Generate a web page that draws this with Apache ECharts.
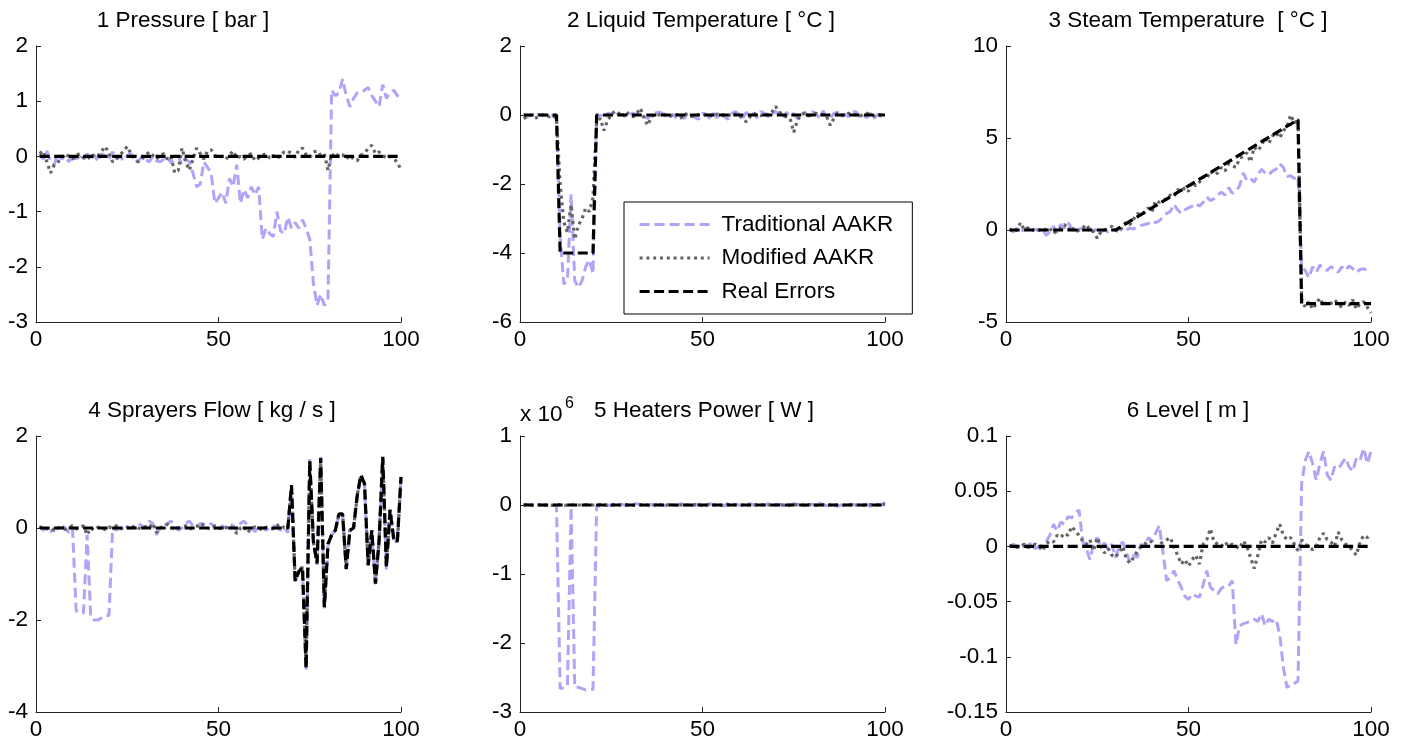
<!DOCTYPE html>
<html>
<head>
<meta charset="utf-8">
<script src="https://cdn.jsdelivr.net/npm/echarts@6/dist/echarts.min.js"></script>
<style>
html,body{margin:0;padding:0;background:#fff;}
#chart{width:1410px;height:746px;}
</style>
</head>
<body>
<div id="chart"></div>
<script>
// ---------------- DATA (sample index 1..100) ----------------
const seriesNames = ['Traditional AAKR', 'Modified AAKR', 'Real Errors'];
const panelTitles = ['1 Pressure [ bar ]', '2 Liquid Temperature [ °C ]', '3 Steam Temperature  [ °C ]',
                     '4 Sprayers Flow [ kg / s ]', '5 Heaters Power [ W ]', '6 Level [ m ]'];
const xTicks = [0, 50, 100];

// Panel 1 : Pressure [bar]
const p1Trad = [0.05,-0.05,0.1,-0.1,-0.15,0.05,-0.05,0.02,-0.1,0.05,
  -0.05,0.0,-0.08,0.05,-0.05,0.02,-0.1,0.05,0.0,-0.05,
  0.08,-0.05,0.0,-0.08,0.02,0.05,-0.05,-0.1,0.0,-0.05,
  -0.1,0.0,-0.08,-0.1,-0.05,0.0,-0.12,-0.05,0.0,-0.15,
  -0.05,-0.1,-0.3,-0.55,-0.5,-0.1,-0.2,-0.3,-0.85,-0.75,
  -0.65,-0.85,-0.4,-0.55,-0.15,-0.85,-0.6,-0.75,-0.55,-0.7,
  -0.55,-1.5,-1.3,-1.4,-1.45,-1.0,-1.35,-1.4,-1.1,-1.3,
  -1.2,-1.3,-1.15,-1.3,-1.5,-2.3,-2.7,-2.5,-2.7,-2.6,
  1.2,1.1,1.15,1.4,1.1,0.9,1.05,1.15,1.15,1.2,
  1.25,1.1,1.0,0.9,1.3,1.05,1.15,1.2,1.1,1.06];
const p1Mod = [0.05,0.1,-0.1,-0.3,-0.15,-0.1,-0.05,0.05,0.0,-0.05,
  0.02,0.05,-0.03,0.0,-0.05,0.05,0.02,0.1,0.18,0.05,
  -0.1,-0.05,0.02,0.1,0.18,0.05,-0.05,-0.1,-0.05,0.02,
  0.08,0.02,-0.05,0.02,0.05,-0.05,0.0,-0.3,-0.25,0.15,
  -0.1,-0.25,-0.05,0.15,0.05,-0.05,0.1,0.12,0.02,-0.02,
  0.0,-0.05,0.02,0.1,-0.03,0.0,-0.05,0.02,0.05,-0.08,
  -0.03,0.02,0.05,-0.03,0.02,-0.05,0.03,0.08,0.1,0.05,
  -0.02,0.12,0.15,0.03,-0.02,0.08,0.1,0.02,0.05,-0.25,
  0.05,-0.02,0.05,0.03,-0.05,0.02,-0.05,-0.08,0.02,0.05,
  0.15,0.2,0.05,0.08,0.02,-0.03,0.0,-0.05,-0.1,-0.25];
const p1Real = [0,0,0,0,0,0,0,0,0,0, 0,0,0,0,0,0,0,0,0,0,
  0,0,0,0,0,0,0,0,0,0, 0,0,0,0,0,0,0,0,0,0,
  0,0,0,0,0,0,0,0,0,0, 0,0,0,0,0,0,0,0,0,0,
  0,0,0,0,0,0,0,0,0,0, 0,0,0,0,0,0,0,0,0,0,
  0,0,0,0,0,0,0,0,0,0, 0,0,0,0,0,0,0,0,0,0];

// Panel 2 : Liquid temperature [°C]
const p2Trad = [0.02,-0.05,0.0,-0.03,0.02,-0.02,0.0,0.03,-0.02,-0.1,
  -3.5,-4.9,-4.8,-2.3,-4.8,-5.0,-4.8,-4.4,-4.2,-4.6,
  -0.05,0.0,-0.1,0.05,0.02,-0.05,0.05,0.0,-0.05,0.02,
  0.05,0.0,0.05,-0.05,-0.1,0.02,0.05,0.08,0.05,0.0,
  -0.05,0.02,-0.12,-0.05,-0.1,0.05,0.02,-0.08,-0.12,0.05,
  0.02,-0.1,0.05,-0.08,0.08,-0.05,-0.12,0.05,0.1,0.02,
  -0.1,0.08,-0.05,0.05,-0.08,0.1,0.05,-0.05,0.02,0.1,
  0.05,-0.1,0.08,-0.05,0.05,-0.1,0.02,0.08,-0.05,0.1,
  0.05,-0.08,0.12,-0.05,-0.1,0.05,0.08,-0.05,0.02,-0.05,
  0.08,0.1,-0.05,0.0,-0.08,0.05,-0.1,0.02,-0.05,-0.1];
const p2Mod = [-0.1,-0.05,0.0,-0.1,-0.05,0.0,0.02,-0.05,0.0,-0.1,
  -2.0,-3.1,-3.4,-2.6,-3.6,-3.2,-3.0,-2.7,-2.8,-2.4,
  -0.2,-0.1,-0.45,-0.15,0.0,0.12,0.05,-0.05,0.1,0.0,
  -0.05,0.05,0.2,-0.1,-0.3,-0.05,0.02,0.0,0.05,-0.02,
  0.0,-0.05,0.02,-0.1,0.05,0.0,-0.05,0.02,0.0,-0.03,
  0.02,0.0,-0.05,0.03,-0.02,0.0,0.02,-0.05,0.03,0.0,
  -0.1,-0.2,-0.05,0.05,0.0,-0.02,0.05,0.0,0.08,0.25,
  0.1,0.0,-0.05,-0.1,-0.5,-0.15,0.0,0.05,-0.02,0.0,
  0.05,0.0,0.02,-0.05,-0.3,-0.1,0.05,0.0,-0.02,0.05,
  0.02,0.0,-0.05,0.02,0.05,0.0,-0.03,0.02,0.0,-0.05];
const p2Real = [0,0,0,0,0,0,0,0,0,0, -4,-4,-4,-4,-4,-4,-4,-4,-4,-4,
  0,0,0,0,0,0,0,0,0,0, 0,0,0,0,0,0,0,0,0,0,
  0,0,0,0,0,0,0,0,0,0, 0,0,0,0,0,0,0,0,0,0,
  0,0,0,0,0,0,0,0,0,0, 0,0,0,0,0,0,0,0,0,0,
  0,0,0,0,0,0,0,0,0,0, 0,0,0,0,0,0,0,0,0,0];

// Panel 3 : Steam temperature [°C]
const p3Trad = [0.05,-0.1,0.1,-0.05,0.0,0.15,-0.1,0.05,-0.05,0.1,
  -0.3,-0.1,0.2,-0.15,0.3,0.1,0.4,0.1,-0.2,0.05,
  0.1,-0.1,0.05,-0.05,0.1,-0.1,0.0,-0.1,0.05,0.0,
  0.05,-0.05,0.0,0.1,0.05,0.2,0.25,0.3,0.35,0.5,
  0.4,0.5,0.7,0.9,1.0,1.4,1.1,0.9,1.1,1.2,
  1.3,1.45,1.3,1.5,1.8,1.6,1.7,1.9,2.05,1.9,
  2.3,2.0,2.1,2.4,3.1,2.7,2.8,2.6,3.0,3.3,
  3.1,3.0,3.2,3.3,3.6,3.4,2.9,2.95,2.8,2.9,
  -2.0,-2.2,-2.6,-2.0,-2.3,-1.9,-2.1,-2.2,-2.0,-2.1,
  -2.3,-2.0,-2.2,-1.95,-2.1,-2.3,-2.15,-2.1,-2.2,-2.15];
const p3Mod = [0.05,-0.1,0.0,0.4,0.0,0.1,-0.05,0.1,0.0,-0.05,
  0.05,0.1,-0.2,0.0,0.1,0.3,0.0,0.2,-0.1,0.0,
  0.1,0.3,0.0,-0.1,-0.45,-0.1,0.0,0.1,0.2,0.0,
  -0.1,0.2,0.45,0.3,0.6,0.9,0.8,1.0,1.2,1.0,
  1.6,1.5,1.6,1.7,1.9,1.8,2.2,2.1,2.3,2.1,
  2.6,2.4,2.6,2.9,2.8,3.2,3.0,3.1,3.4,3.2,
  3.6,3.5,3.4,3.9,4.0,4.2,3.7,4.5,4.3,4.6,
  5.0,4.7,5.1,5.3,5.0,5.4,5.6,6.25,5.8,6.0,
  -3.8,-4.2,-3.9,-4.3,-4.0,-3.7,-4.1,-3.9,-4.0,-3.8,
  -4.0,-4.2,-3.9,-4.1,-3.8,-4.3,-4.0,-3.9,-4.2,-4.5];
const p3Real = [0,0,0,0,0,0,0,0,0,0, 0,0,0,0,0,0,0,0,0,0,
  0,0,0,0,0,0,0,0,0,0,
  0.12,0.24,0.36,0.48,0.6,0.72,0.84,0.96,1.08,1.2,
  1.32,1.44,1.56,1.68,1.8,1.92,2.04,2.16,2.28,2.4,
  2.52,2.64,2.76,2.88,3.0,3.12,3.24,3.36,3.48,3.6,
  3.72,3.84,3.96,4.08,4.2,4.32,4.44,4.56,4.68,4.8,
  4.92,5.04,5.16,5.28,5.4,5.52,5.64,5.76,5.88,6.0,
  -4,-4,-4,-4,-4,-4,-4,-4,-4,-4, -4,-4,-4,-4,-4,-4,-4,-4,-4,-4];

// Panel 4 : Sprayers flow [kg/s]
const p4Trad = [0.05,-0.05,0.0,-0.08,0.0,-0.02,0.05,0.0,-0.1,0.0,
  -1.8,-1.85,-1.85,-0.15,-1.95,-2.0,-2.0,-1.95,-1.9,-1.9,
  0.0,-0.05,0.0,0.05,0.02,0.0,0.05,0.1,0.05,0.0,
  0.15,0.1,-0.15,0.0,0.05,0.1,0.15,0.05,-0.05,0.0,
  0.1,0.15,0.05,0.0,0.1,0.08,0.05,0.1,0.0,-0.05,
  0.05,0.0,0.1,0.05,-0.05,0.1,0.15,0.05,0.0,-0.08,
  0.05,0.0,-0.05,0.0,0.05,0.0,-0.05,0.0,-0.1,0.9,
  -1.2,-0.9,-0.85,-3.1,1.5,-0.3,-0.8,1.55,-1.75,-0.35,
  -0.15,-0.05,0.3,0.3,-0.85,-0.05,0.0,0.7,1.1,0.95,
  -0.85,-0.1,-1.25,-0.3,1.5,-0.9,0.4,-0.2,-0.3,1.1];
const p4Mod = [0.0,0.03,-0.02,0.0,-0.05,0.0,0.02,-0.03,0.0,0.05,
  -0.02,0.0,0.05,-0.15,0.0,-0.05,0.02,0.0,-0.03,0.02,
  0.0,0.05,-0.02,0.0,0.02,-0.03,0.05,0.0,-0.02,0.03,
  0.0,0.1,-0.1,0.0,0.05,0.08,0.02,-0.03,0.0,0.02,
  0.05,-0.02,0.0,0.03,0.1,0.05,0.0,-0.02,0.05,0.0,
  -0.03,0.0,0.05,-0.02,-0.12,0.0,0.03,-0.1,0.0,0.02,
  0.0,-0.05,0.02,0.0,-0.02,0.05,0.08,0.0,0.02,0.92,
  -1.15,-0.95,-0.85,-3.0,1.45,-0.3,-0.75,1.5,-1.7,-0.35,
  -0.15,-0.05,0.3,0.3,-0.9,-0.05,0.0,0.7,1.15,0.95,
  -0.8,-0.05,-1.2,-0.25,1.55,-0.85,0.4,-0.25,-0.3,1.1];
const p4Real = [0,0,0,0,0,0,0,0,0,0, 0,0,0,0,0,0,0,0,0,0,
  0,0,0,0,0,0,0,0,0,0, 0,0,0,0,0,0,0,0,0,0,
  0,0,0,0,0,0,0,0,0,0, 0,0,0,0,0,0,0,0,0,0,
  0,0,0,0,0,0,0,0,0,0.93,
  -1.15,-0.95,-0.85,-3.05,1.45,-0.3,-0.77,1.52,-1.72,-0.35,
  -0.15,-0.05,0.31,0.3,-0.89,-0.05,0.0,0.7,1.15,0.97,
  -0.81,-0.05,-1.21,-0.27,1.55,-0.85,0.39,-0.23,-0.3,1.11];

// Panel 5 : Heaters power [W], values in units of 10^6 W
const p5Trad = [0.0,0.01,-0.01,0.0,0.01,0.0,-0.01,0.0,0.01,-0.02,
  -2.66,-2.65,-2.62,-0.03,-2.64,-2.64,-2.66,-2.68,-2.68,-2.67,
  0.0,-0.02,0.01,0.0,-0.01,0.02,0.0,0.01,-0.01,0.0,
  0.01,0.02,0.0,-0.01,-0.02,0.01,0.0,0.02,0.0,-0.01,
  0.01,0.0,-0.01,0.02,0.0,0.01,-0.01,0.0,0.01,0.0,
  -0.01,0.02,0.0,0.01,0.0,-0.01,0.03,0.0,0.01,0.0,
  -0.01,0.0,0.02,0.0,-0.01,0.01,0.0,0.02,-0.01,0.0,
  0.01,0.0,-0.01,0.0,0.02,0.0,0.01,-0.01,0.0,0.01,
  0.0,0.03,0.0,-0.01,0.01,0.0,-0.02,0.0,0.01,0.0,
  0.01,0.0,-0.01,0.0,0.01,-0.02,0.0,0.01,0.0,0.04];
const p5Mod = [0.0,0.005,0.0,-0.005,0.0,0.005,0.0,0.0,-0.005,0.0,
  0.005,0.0,-0.005,0.0,0.005,0.0,0.0,0.005,-0.005,0.0,
  0.0,0.005,0.0,-0.005,0.0,0.005,0.0,0.0,0.005,0.0,
  -0.005,0.0,0.005,0.0,0.0,-0.005,0.0,0.005,0.0,0.0,
  0.005,0.0,-0.005,0.0,0.005,0.0,0.0,0.005,0.0,-0.005,
  0.0,0.005,0.0,0.0,-0.005,0.0,0.005,0.0,0.0,0.005,
  0.0,-0.005,0.0,0.005,0.0,0.0,0.005,0.0,-0.005,0.0,
  0.005,0.0,0.0,-0.005,0.0,0.005,0.0,0.0,0.005,0.0,
  -0.005,0.0,0.005,0.0,0.0,0.005,0.0,-0.005,0.0,0.0,
  0.005,0.0,0.0,-0.005,0.0,0.005,0.0,0.0,0.005,0.01];
const p5Real = [0,0,0,0,0,0,0,0,0,0, 0,0,0,0,0,0,0,0,0,0,
  0,0,0,0,0,0,0,0,0,0, 0,0,0,0,0,0,0,0,0,0,
  0,0,0,0,0,0,0,0,0,0, 0,0,0,0,0,0,0,0,0,0,
  0,0,0,0,0,0,0,0,0,0, 0,0,0,0,0,0,0,0,0,0,
  0,0,0,0,0,0,0,0,0,0, 0,0,0,0,0,0,0,0,0,0];

// Panel 6 : Level [m]
const p6Trad = [0.0,0.002,0.0,-0.002,0.0,0.001,0.003,-0.002,0.0,0.001,
  0.004,0.01,0.02,0.014,0.022,0.02,0.027,0.026,0.03,0.033,
  0.005,-0.002,-0.012,0.002,0.008,0.0,0.003,-0.003,0.002,-0.01,
  0.0,0.004,-0.006,-0.014,-0.008,-0.01,0.002,0.0,0.008,0.005,
  0.012,0.019,-0.005,-0.031,-0.028,-0.022,-0.03,-0.037,-0.045,-0.048,
  -0.043,-0.045,-0.046,-0.035,-0.022,-0.037,-0.04,-0.043,-0.038,-0.036,
  -0.036,-0.031,-0.089,-0.072,-0.07,-0.069,-0.068,-0.066,-0.068,-0.061,
  -0.072,-0.066,-0.068,-0.066,-0.08,-0.11,-0.128,-0.125,-0.124,-0.122,
  0.057,0.078,0.086,0.075,0.06,0.075,0.086,0.065,0.06,0.072,
  0.07,0.075,0.08,0.072,0.068,0.08,0.078,0.089,0.075,0.086];
const p6Mod = [0.0,0.001,-0.001,0.0,0.002,-0.001,0.0,0.002,0.0,-0.004,
  0.002,0.005,0.004,0.01,0.008,0.012,0.01,0.018,0.014,0.01,
  0.005,0.002,0.006,-0.004,0.008,0.0,-0.006,-0.002,-0.008,-0.01,
  -0.005,0.0,-0.012,-0.015,-0.01,-0.004,0.0,0.002,0.005,0.004,
  0.0,0.002,0.004,0.006,0.008,0.0,-0.008,-0.016,-0.012,-0.018,
  -0.012,-0.008,-0.016,0.002,0.006,0.016,0.004,0.002,0.0,0.004,
  0.0,0.002,0.0,-0.002,0.005,0.0,-0.01,-0.02,-0.008,0.006,
  0.004,0.008,0.003,0.012,0.02,0.01,0.006,0.008,0.002,-0.004,
  0.006,0.002,0.0,-0.003,0.0,0.008,0.012,0.006,0.004,0.0,
  0.013,0.006,0.002,0.0,-0.004,-0.008,0.004,0.01,0.008,0.011];
const p6Real = [0,0,0,0,0,0,0,0,0,0, 0,0,0,0,0,0,0,0,0,0,
  0,0,0,0,0,0,0,0,0,0, 0,0,0,0,0,0,0,0,0,0,
  0,0,0,0,0,0,0,0,0,0, 0,0,0,0,0,0,0,0,0,0,
  0,0,0,0,0,0,0,0,0,0, 0,0,0,0,0,0,0,0,0,0,
  0,0,0,0,0,0,0,0,0,0, 0,0,0,0,0,0,0,0,0,0];

// y-axis ranges (tick labels derived by the axis)
const yRanges = [
  {min: -3, max: 2, interval: 1},
  {min: -6, max: 2, interval: 2},
  {min: -5, max: 10, interval: 5},
  {min: -4, max: 2, interval: 2},
  {min: -3, max: 1, interval: 1},
  {min: -0.15, max: 0.1, interval: 0.05}
];

// ---------------- LAYOUT / STYLE ----------------
const panelData = [
  [p1Trad, p1Mod, p1Real], [p2Trad, p2Mod, p2Real], [p3Trad, p3Mod, p3Real],
  [p4Trad, p4Mod, p4Real], [p5Trad, p5Mod, p5Real], [p6Trad, p6Mod, p6Real]
];
const lefts = [36, 520, 1006];
const tops = [46, 436];
const W = 365, H = 276;
const titleCenters = [[183, 21], [701, 21], [1188, 21], [212, 411], [704, 411], [1188, 411]];
const FONT = 'Liberation Sans, Arial, Helvetica, sans-serif';
const FS = 22.5;

const styles = [
  {color: '#b4a2f8', width: 3, type: [10, 5]},
  {color: '#646464', width: 3.2, type: [3, 3.8]},
  {color: '#000000', width: 3.2, type: [10, 4.5]}
];

const grids = [], xAxes = [], yAxes = [], series = [], graphics = [];
for (let p = 0; p < 6; p++) {
  const col = p % 3, row = Math.floor(p / 3);
  grids.push({left: lefts[col], top: tops[row], width: W, height: H, containLabel: false});
  xAxes.push({
    type: 'value', gridIndex: p, min: xTicks[0], max: xTicks[xTicks.length - 1], interval: 50,
    axisLine: {onZero: false, lineStyle: {color: '#222', width: 1}},
    axisTick: {inside: true, length: 5, lineStyle: {color: '#222'}},
    splitLine: {show: false},
    axisLabel: {color: '#000', fontSize: FS, fontFamily: FONT, margin: 6}
  });
  yAxes.push({
    type: 'value', gridIndex: p, min: yRanges[p].min, max: yRanges[p].max, interval: yRanges[p].interval,
    axisLine: {show: true, onZero: false, lineStyle: {color: '#222', width: 1}},
    axisTick: {show: true, inside: true, length: 5, lineStyle: {color: '#222'}},
    splitLine: {show: false},
    axisLabel: {color: '#000', fontSize: FS, fontFamily: FONT, margin: 8,
      formatter: function (v) { return String(Math.round(v * 1000) / 1000); }}
  });
  for (let s = 0; s < 3; s++) {
    const arr = panelData[p][s];
    series.push({
      name: seriesNames[s], type: 'line', xAxisIndex: p, yAxisIndex: p,
      data: arr.map((v, i) => [i + 1, v]),
      symbol: 'none', showSymbol: false, smooth: false, clip: true,
      itemStyle: {color: styles[s].color},
      lineStyle: {color: styles[s].color, width: styles[s].width, type: styles[s].type, cap: 'butt'},
      emphasis: {disabled: true}, z: 2 + s
    });
  }
  graphics.push({
    type: 'text', x: titleCenters[p][0], y: titleCenters[p][1],
    style: {text: panelTitles[p], fontSize: FS, fontFamily: FONT, fill: '#000', align: 'center', verticalAlign: 'middle'}
  });
}
// exponent label for panel 5
graphics.push({type: 'text', x: 520, y: 415,
  style: {text: 'x 10', fontSize: FS, fontFamily: FONT, fill: '#000', align: 'left', verticalAlign: 'middle'}});
graphics.push({type: 'text', x: 565, y: 404,
  style: {text: '6', fontSize: 16, fontFamily: FONT, fill: '#000', align: 'left', verticalAlign: 'middle'}});

const chart = echarts.init(document.getElementById('chart'), null, {renderer: 'canvas'});
chart.setOption({
  animation: false,
  backgroundColor: '#fff',
  grid: grids, xAxis: xAxes, yAxis: yAxes, series: series, graphic: graphics,
  legend: {
    data: seriesNames, orient: 'vertical', left: 624, top: 202,
    itemWidth: 70, itemHeight: 14, itemGap: 10.5,
    padding: [11, 19, 11, 14],
    backgroundColor: '#fff', borderColor: '#000', borderWidth: 1, borderRadius: 0,
    selectedMode: false,
    itemStyle: {opacity: 0},
    lineStyle: {width: 3.2},
    textStyle: {fontSize: FS, fontFamily: FONT, color: '#000', padding: [0, 0, 0, 7]}
  }
});
</script>
</body>
</html>
